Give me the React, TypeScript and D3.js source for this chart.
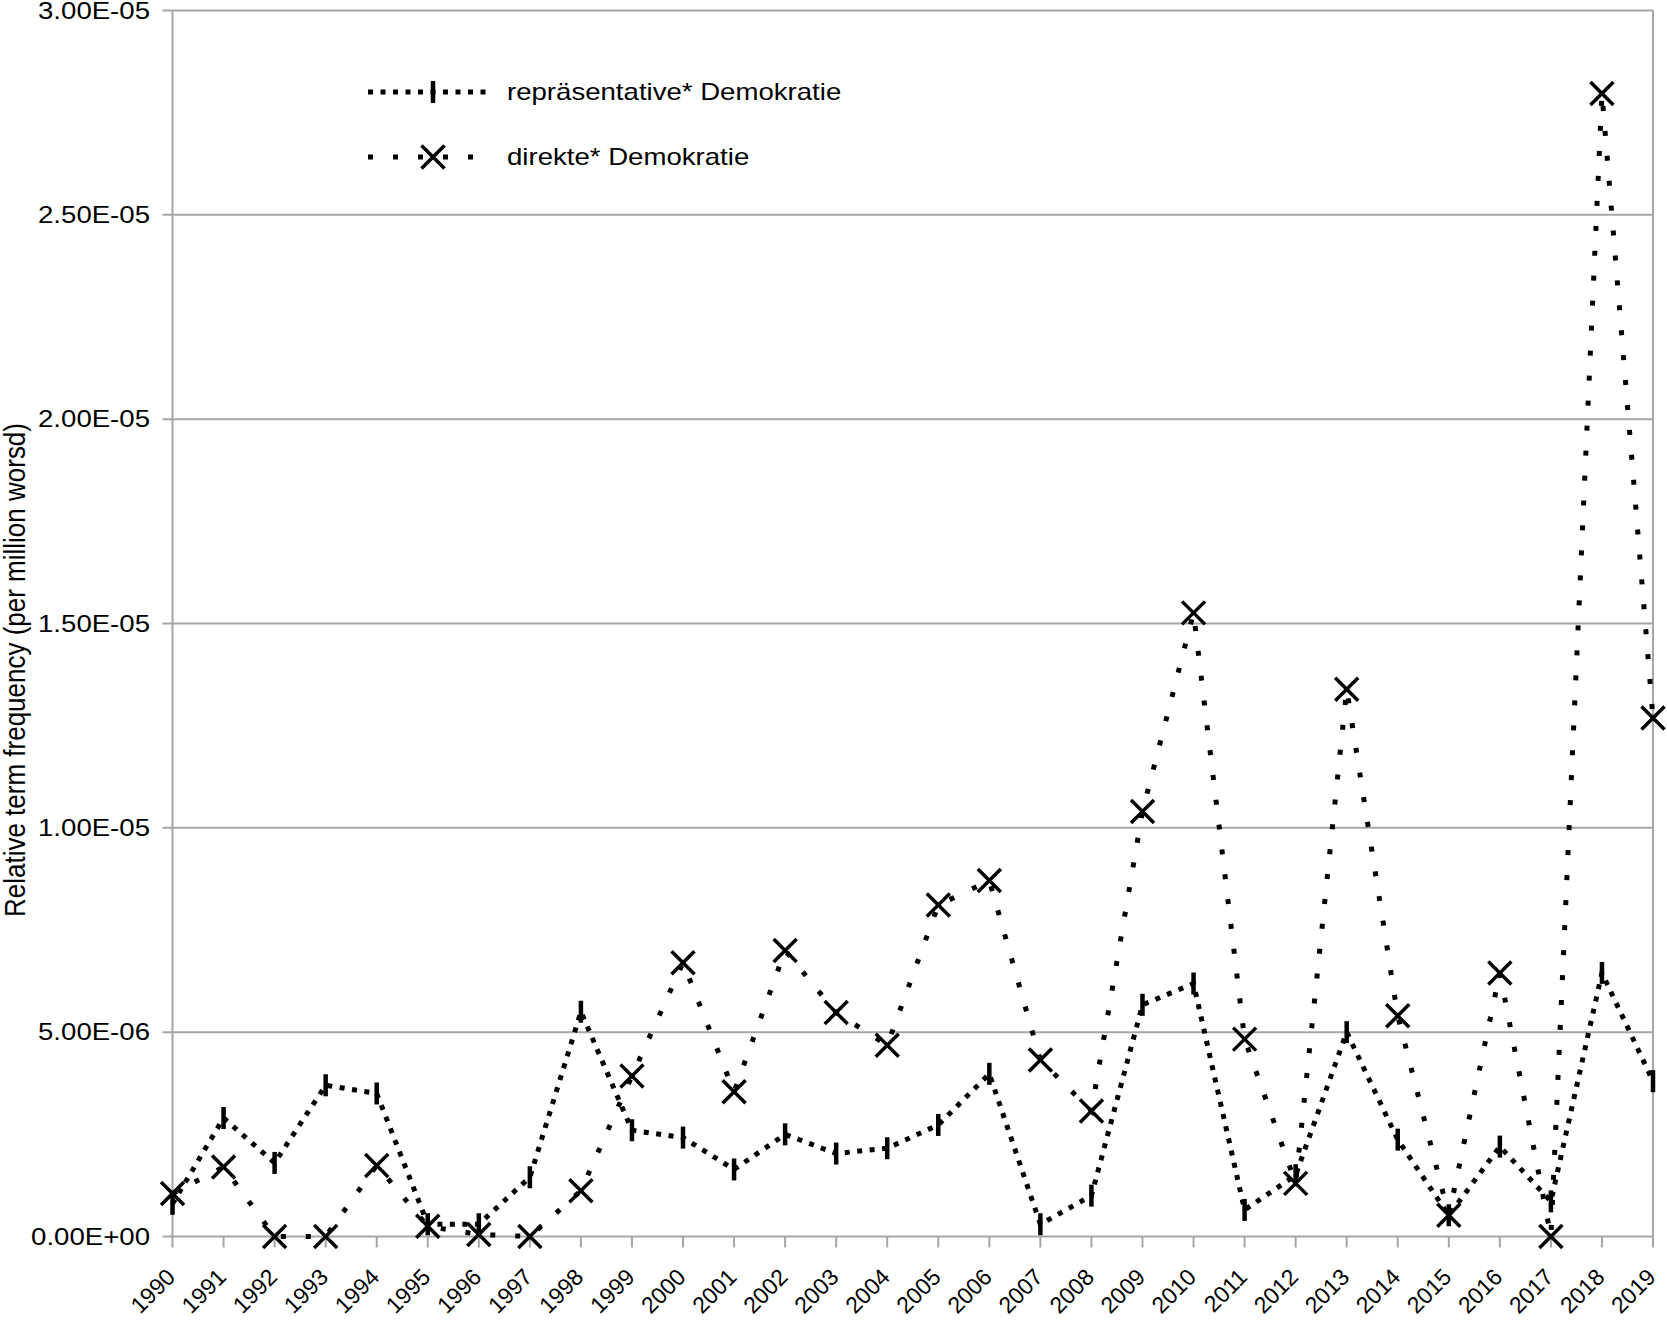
import * as d3 from "d3";

// values, in units of 1E-06
const years = d3.range(1990, 2020);
const representative = [
  0.8, 2.9, 1.8, 3.7, 3.5, 0.3, 0.3, 1.45, 5.5, 2.6, 2.42, 1.64, 2.5, 2.03, 2.16,
  2.73, 3.98, 0.3, 1.0, 5.67, 6.19, 0.65, 1.5, 5.0, 2.37, 0.52, 2.2, 0.86, 6.45, 3.8,
];
const direct = [
  1.05, 1.7, 0, 0, 1.74, 0.25, 0.05, 0, 1.12, 3.93, 6.7, 3.54, 7.0, 5.48, 4.68,
  8.11, 8.71, 4.32, 3.07, 10.4, 15.26, 4.83, 1.3, 13.39, 5.4, 0.52, 6.45, 0, 27.97, 12.69,
];
const yTicks = [0, 5, 10, 15, 20, 25, 30];
const yTickLabels = ["0.00E+00", "5.00E-06", "1.00E-05", "1.50E-05", "2.00E-05", "2.50E-05", "3.00E-05"];
const seriesNames = ["repräsentative* Demokratie", "direkte* Demokratie"];

const FONT = "'Liberation Sans', Arial, sans-serif";
const GRID = "#a6a6a6";
// the reference text is a bit wider than the plain font
const STRETCH = "scale(1.2, 1)";

function BarMarker({ x, y }: { x: number; y: number }) {
  return <line x1={x} x2={x} y1={y - 11} y2={y + 11} stroke="#000" strokeWidth={4.5} />;
}

function CrossMarker({ x, y }: { x: number; y: number }) {
  const s = 11.5;
  return (
    <g stroke="#000" strokeWidth={3.5}>
      <line x1={x - s} x2={x + s} y1={y - s} y2={y + s} />
      <line x1={x - s} x2={x + s} y1={y + s} y2={y - s} />
    </g>
  );
}

export default function App() {
  const width = 1667;
  const height = 1320;
  const left = 172.5;
  const right = 1653;
  const top = 10.5;
  const bottom = 1236.5;

  const x = d3.scaleLinear().domain([1990, 2019]).range([left, right]);
  const y = d3.scaleLinear().domain([0, 30]).range([bottom, top]);

  const line = d3
    .line<number>()
    .x((_, i) => x(years[i]))
    .y((d) => y(d));

  const repDash = "5 7.5";
  const dirDash = "5 20";

  return (
    <svg
      width={width}
      height={height}
      style={{ position: "fixed", left: 0, top: 0, background: "#fff" }}
      fontFamily={FONT}
    >
      <rect width={width} height={height} fill="#fff" />
      {/* grid and frame */}
      {yTicks.map((t, i) => (
        <g key={t}>
          <line x1={left - 10} x2={right} y1={y(t)} y2={y(t)} stroke={GRID} strokeWidth={2} />
          <text
            transform={`translate(150, ${y(t)}) ${STRETCH}`}
            dy="0.36em"
            textAnchor="end"
            fontSize={23}
            fill="#000"
          >
            {yTickLabels[i]}
          </text>
        </g>
      ))}
      <line x1={left} x2={left} y1={top} y2={bottom} stroke={GRID} strokeWidth={2} />
      <line x1={right} x2={right} y1={top} y2={bottom} stroke={GRID} strokeWidth={2} />
      {years.map((yr) => (
        <g key={yr}>
          <line x1={x(yr)} x2={x(yr)} y1={bottom} y2={bottom + 11} stroke={GRID} strokeWidth={2} />
          <text
            transform={`translate(${x(yr) + 4}, ${bottom + 42}) rotate(-45)`}
            textAnchor="end"
            fontSize={23}
            fill="#000"
          >
            {yr}
          </text>
        </g>
      ))}
      <text
        transform={`translate(25, 670) scale(1.12, 1) rotate(-90)`}
        textAnchor="middle"
        fontSize={26}
        fill="#000"
      >
        Relative term frequency (per million worsd)
      </text>

      {/* series */}
      <path d={line(representative) ?? ""} fill="none" stroke="#000" strokeWidth={5} strokeDasharray={repDash} />
      <path d={line(direct) ?? ""} fill="none" stroke="#000" strokeWidth={5} strokeDasharray={dirDash} />
      {representative.map((v, i) => (
        <BarMarker key={`r-${i}`} x={x(years[i])} y={y(v)} />
      ))}
      {direct.map((v, i) => (
        <CrossMarker key={`d-${i}`} x={x(years[i])} y={y(v)} />
      ))}

      {/* legend */}
      <g>
        <line x1={368} x2={492} y1={92} y2={92} stroke="#000" strokeWidth={5} strokeDasharray={repDash} />
        <BarMarker x={433} y={92} />
        <text transform={`translate(507, 92) ${STRETCH}`} dy="0.36em" fontSize={23} fill="#000">
          {seriesNames[0]}
        </text>
        <line x1={368} x2={492} y1={157} y2={157} stroke="#000" strokeWidth={5} strokeDasharray={dirDash} />
        <CrossMarker x={433} y={157} />
        <text transform={`translate(507, 157) ${STRETCH}`} dy="0.36em" fontSize={23} fill="#000">
          {seriesNames[1]}
        </text>
      </g>
    </svg>
  );
}
